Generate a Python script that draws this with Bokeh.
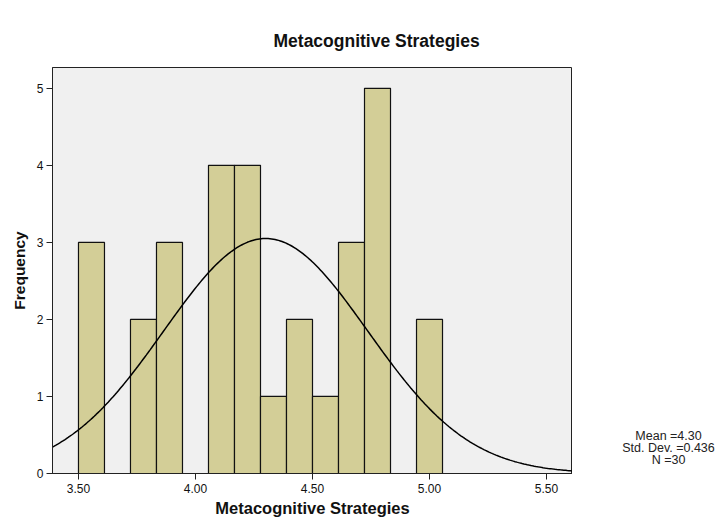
import numpy as np
from bokeh.plotting import figure
from bokeh.layouts import row
from bokeh.models import Label, FixedTicker, CustomJSTickFormatter, Range1d
from bokeh.embed import file_html
from bokeh.resources import INLINE

# Data
bin_start = 3.5
bin_width = 1.0 / 9.0
counts = [3, 0, 2, 3, 0, 4, 4, 1, 2, 1, 3, 5, 0, 2]
x_ticks = [3.5, 4.0, 4.5, 5.0, 5.5]
y_ticks = [0, 1, 2, 3, 4, 5]
mean_val = 4.30
sd_val = 0.436
n_val = 30
stats_lines = ["Mean =4.30", "Std. Dev. =0.436", "N =30"]

FONT = "Liberation Sans"

lefts = [bin_start + i * bin_width for i in range(len(counts))]
rights = [l + bin_width for l in lefts]

p = figure(width=572, height=519, output_backend="svg", toolbar_location=None,
           x_range=Range1d(3.389, 5.611), y_range=Range1d(0, 5.27),
           min_border_left=52, min_border_right=0, min_border_top=67, min_border_bottom=46,
           title="Metacognitive Strategies")

p.background_fill_color = "#f0f0f0"
p.border_fill_color = "white"
p.outline_line_color = "#222222"
p.outline_line_width = 1
p.xgrid.visible = False
p.ygrid.visible = False

p.title.align = "left"
p.title.vertical_align = "top"
p.title.offset = 221
p.title.standoff = 30
p.title.text_font = FONT
p.title.text_font_style = "bold"
p.title.text_font_size = "17.5px"
p.title.text_color = "#111111"

src_l = [l for l, c in zip(lefts, counts) if c > 0]
src_r = [r for r, c in zip(rights, counts) if c > 0]
src_c = [c for c in counts if c > 0]
p.quad(left=src_l, right=src_r, bottom=0, top=src_c,
       fill_color="#d3ce97", line_color="#111111", line_width=1.2)

xs = np.linspace(3.389, 5.611, 300)
ys = n_val * bin_width * np.exp(-0.5 * ((xs - mean_val) / sd_val) ** 2) / (sd_val * np.sqrt(2 * np.pi))
p.line(xs, ys, line_color="black", line_width=1.5)

p.xaxis.ticker = FixedTicker(ticks=x_ticks)
p.xaxis.formatter = CustomJSTickFormatter(code="return tick.toFixed(2);")
p.yaxis.ticker = FixedTicker(ticks=y_ticks)
for ax in (p.xaxis[0], p.yaxis[0]):
    ax.major_tick_in = 0
    ax.major_tick_out = 6
    ax.minor_tick_line_color = None
    ax.axis_line_color = "#222222"
    ax.major_tick_line_color = "#222222"
    ax.major_label_text_font = FONT
    ax.major_label_text_font_size = "12px"
    ax.major_label_text_color = "#111111"
    ax.axis_label_text_font = FONT
    ax.axis_label_text_font_style = "bold"
    ax.axis_label_text_color = "#111111"
p.xaxis.axis_label_text_font_size = "16.5px"
p.yaxis.axis_label_text_font_size = "15.5px"
p.xaxis.axis_label = "Metacognitive Strategies"
p.yaxis.axis_label = "Frequency"
p.xaxis.major_label_standoff = 4
p.xaxis.axis_label_standoff = 3
p.yaxis.major_label_standoff = 3
p.yaxis.axis_label_standoff = 6

# Side panel with the summary statistics (its frame is aligned with the main frame)
s = figure(width=148, height=519, output_backend="svg", toolbar_location=None,
           x_range=Range1d(0, 148), y_range=Range1d(46, 452),
           min_border=0)
s.axis.visible = False
s.grid.visible = False
s.outline_line_color = None
s.background_fill_color = "white"
for i, t in enumerate(stats_lines):
    s.add_layout(Label(x=96, y=84 - 12 * i, text=t, text_align="center", text_baseline="middle",
                       text_font=FONT, text_font_size="12.5px", text_color="#222222"))

layout = row(p, s)
open("out.html", "w").write(file_html(layout, INLINE))
